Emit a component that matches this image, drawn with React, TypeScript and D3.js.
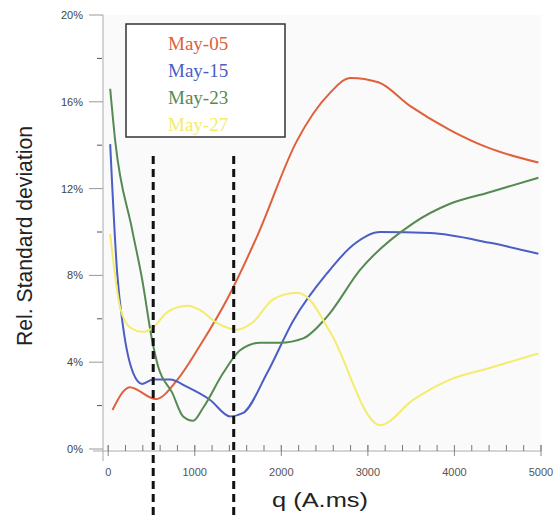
import React from "react";
import * as d3 from "d3";

// q (A.ms) sample positions and relative std deviation (%) per date
const may05X = [50, 250, 550, 800, 1050, 1400, 1720, 2180, 2560, 2800, 3120, 3490, 3950, 4380, 4970];
const may05Y = [1.8, 2.85, 2.3, 3.2, 4.7, 7.1, 9.8, 14.2, 16.4, 17.1, 16.9, 15.8, 14.7, 13.9, 13.2];

const may15X = [23, 104, 173, 289, 393, 520, 716, 912, 1178, 1409, 1559, 1836, 2136, 2529, 2829, 3141, 3718, 4411, 4970];
const may15Y = [14.05, 8.1, 5.6, 3.5, 3.0, 3.2, 3.2, 2.86, 2.26, 1.5, 1.66, 3.5, 5.9, 8.1, 9.4, 10.0, 9.95, 9.5, 9.0];

const may23X = [23, 81, 277, 393, 508, 577, 739, 866, 982, 1097, 1328, 1524, 1755, 1986, 2252, 2529, 2910, 3522, 3949, 4376, 4970];
const may23Y = [16.6, 14.2, 10.1, 7.8, 5.0, 3.8, 2.6, 1.5, 1.3, 1.9, 3.5, 4.55, 4.9, 4.9, 5.1, 6.1, 8.25, 10.4, 11.3, 11.8, 12.5];

const may27X = [23, 139, 254, 404, 520, 681, 912, 1062, 1259, 1490, 1674, 1905, 2182, 2298, 2563, 3141, 3522, 3949, 4376, 4970];
const may27Y = [9.9, 6.5, 5.6, 5.4, 5.6, 6.3, 6.6, 6.4, 5.8, 5.5, 5.85, 6.9, 7.2, 7.0, 5.4, 1.1, 2.26, 3.2, 3.7, 4.4];

const seriesNames = ["May-05", "May-15", "May-23", "May-27"];
const seriesColors = ["#e0603c", "#4a5ec4", "#558a52", "#f3ec6c"];
const seriesX = [may05X, may15X, may23X, may27X];
const seriesY = [may05Y, may15Y, may23Y, may27Y];

const xTicks = [0, 1000, 2000, 3000, 4000, 5000];
const yTicks = [0, 4, 8, 12, 16, 20];
const markers = [520, 1450];

const W = 558;
const H = 520;

export default function App() {
  const x = d3.scaleLinear().domain([-60, 5000]).range([103, 541]);
  const y = d3.scaleLinear().domain([0, 20]).range([449, 15]);

  const line = d3
    .line<[number, number]>()
    .x((d) => x(d[0]))
    .y((d) => y(d[1]))
    .curve(d3.curveMonotoneX);

  const minorX = d3.range(0, 5001, 200);
  const minorY = d3.range(2, 20, 4);
  const tickFont = "'Liberation Sans', Arial, sans-serif";

  return (
    <svg
      width={W}
      height={H}
      style={{ position: "absolute", left: 0, top: 0, background: "#fff" }}
    >
      <rect x={x(-60)} y={y(20)} width={x(5000) - x(-60)} height={y(0) - y(20)} fill="#fafafa" />

      {/* y axis */}
      <line x1={x(-60)} x2={x(-60)} y1={y(20)} y2={y(0) + 12} stroke="#aaa" strokeWidth={1} />
      {yTicks.map((t) => (
        <g key={t}>
          <line x1={x(-60) - 14} x2={x(-60)} y1={y(t)} y2={y(t)} stroke="#999" />
          <text
            x={x(-60) - 20}
            y={y(t) + 4}
            textAnchor="end"
            fontFamily={tickFont}
            fontSize={11}
            fill="#444"
          >
            {t}%
          </text>
        </g>
      ))}
      {minorY.map((t) => (
        <line key={t} x1={x(-60) - 6} x2={x(-60) - 1} y1={y(t)} y2={y(t)} stroke="#555" />
      ))}

      {/* x axis */}
      <line x1={x(-60) - 10} x2={x(5000)} y1={y(0) + 2} y2={y(0) + 2} stroke="#aaa" />
      {minorX.map((t) => (
        <line key={t} x1={x(t)} x2={x(t)} y1={y(0) - 4} y2={y(0) + 2} stroke="#777" />
      ))}
      {xTicks.map((t) => (
        <g key={t}>
          <line x1={x(t)} x2={x(t)} y1={y(0) - 4} y2={y(0) + 7} stroke="#888" />
          <text
            x={x(t)}
            y={y(0) + 27}
            textAnchor="middle"
            fontFamily={tickFont}
            fontSize={11}
            fill="#555"
          >
            {t}
          </text>
        </g>
      ))}

      {/* series */}
      {seriesNames.map((name, i) => (
        <path
          key={name}
          d={line(seriesX[i].map((v, j) => [v, seriesY[i][j]] as [number, number])) || ""}
          fill="none"
          stroke={seriesColors[i]}
          strokeWidth={2}
        />
      ))}

      {/* dashed markers */}
      {markers.map((m) => (
        <line
          key={m}
          x1={x(m)}
          x2={x(m)}
          y1={156}
          y2={H}
          stroke="#111"
          strokeWidth={3}
          strokeDasharray="8,5"
        />
      ))}

      {/* legend */}
      <rect x={126} y={24} width={159} height={113} fill="#fff" stroke="#333" strokeWidth={1.5} />
      {seriesNames.map((name, i) => (
        <text
          key={name}
          x={168}
          y={50 + i * 27}
          fontFamily="'Liberation Serif', 'Times New Roman', serif"
          fontSize={19}
          fill={seriesColors[i]}
        >
          {name}
        </text>
      ))}

      {/* titles */}
      <text
        transform={`translate(32, 236) rotate(-90)`}
        textAnchor="middle"
        fontFamily={tickFont}
        fontSize={22}
        textLength={220}
        lengthAdjust="spacingAndGlyphs"
        fill="#222"
      >
        Rel. Standard deviation
      </text>
      <text
        x={320}
        y={507}
        textAnchor="middle"
        fontFamily={tickFont}
        fontSize={21}
        textLength={96}
        lengthAdjust="spacingAndGlyphs"
        fill="#222"
      >
        q (A.ms)
      </text>
    </svg>
  );
}
